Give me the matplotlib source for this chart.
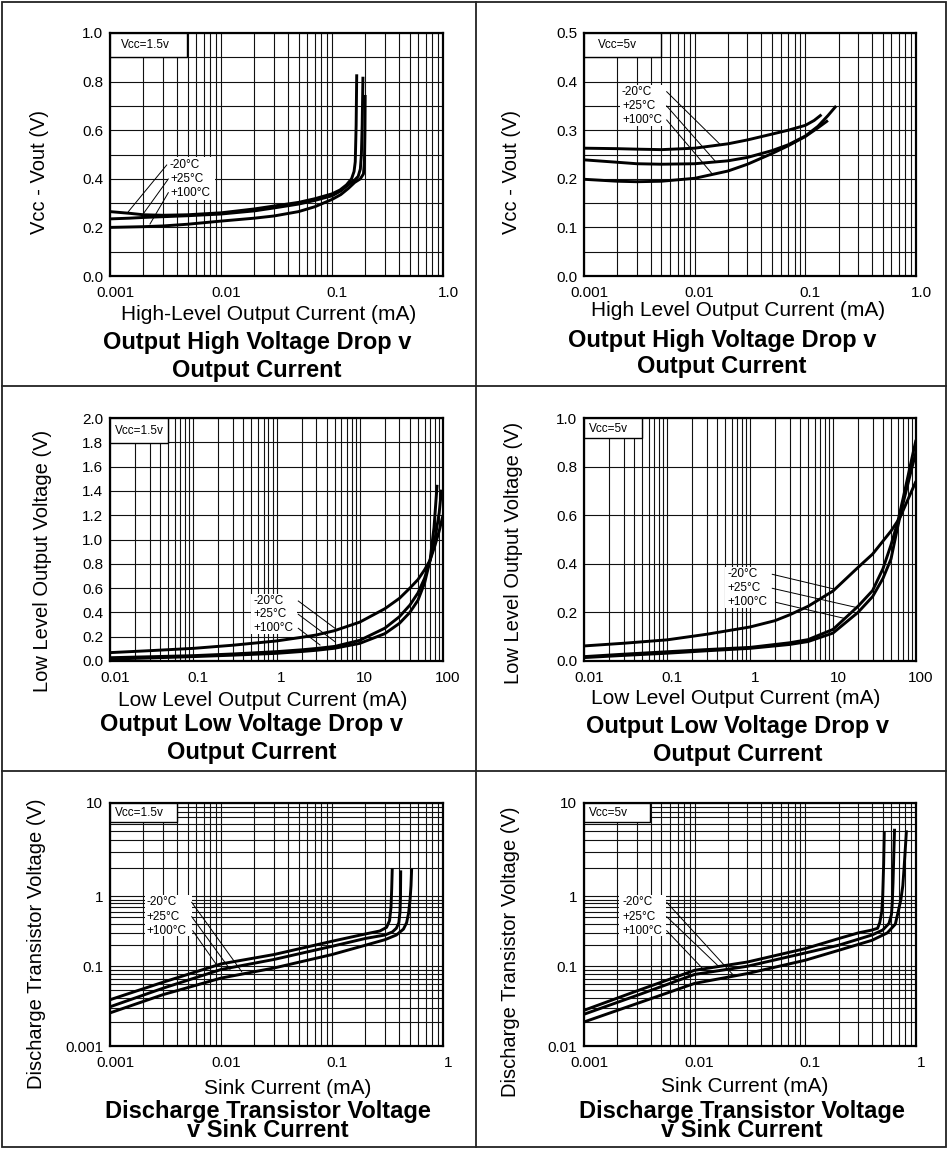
import numpy as np
import matplotlib
matplotlib.use('Agg')
import matplotlib.pyplot as plt
from matplotlib.ticker import FixedLocator, FixedFormatter
from matplotlib.patches import Rectangle
import matplotlib.transforms as mtransforms

plt.rcParams['font.family'] = ['Liberation Sans', 'DejaVu Sans']

temps = ['-20°C', '+25°C', '+100°C']

# --- top left: Vcc=1.5v, output high voltage drop
tl_xa = [0.001, 0.0015, 0.002, 0.003, 0.005, 0.01, 0.02, 0.03, 0.05, 0.07, 0.1, 0.118, 0.135, 0.15, 0.158, 0.162, 0.165, 0.167]
tl_ya = [0.265, 0.258, 0.252, 0.250, 0.252, 0.260, 0.276, 0.288, 0.303, 0.318, 0.338, 0.354, 0.375, 0.40, 0.43, 0.47, 0.62, 0.83]
tl_xb = [0.001, 0.0015, 0.002, 0.003, 0.005, 0.01, 0.02, 0.03, 0.05, 0.07, 0.1, 0.12, 0.14, 0.16, 0.172, 0.18, 0.184, 0.187, 0.19]
tl_yb = [0.235, 0.238, 0.241, 0.244, 0.248, 0.255, 0.268, 0.280, 0.296, 0.311, 0.330, 0.350, 0.375, 0.395, 0.41, 0.44, 0.50, 0.62, 0.82]
tl_xc = [0.001, 0.002, 0.003, 0.005, 0.01, 0.02, 0.03, 0.05, 0.07, 0.1, 0.12, 0.14, 0.16, 0.18, 0.192, 0.196, 0.198, 0.199]
tl_yc = [0.200, 0.203, 0.206, 0.213, 0.226, 0.238, 0.247, 0.265, 0.285, 0.315, 0.335, 0.360, 0.385, 0.40, 0.42, 0.47, 0.60, 0.745]

# --- top right: Vcc=5v
tr_xa = [0.001, 0.002, 0.003, 0.005, 0.01, 0.02, 0.03, 0.05, 0.07, 0.1, 0.12, 0.14]
tr_ya = [0.263, 0.262, 0.261, 0.260, 0.263, 0.272, 0.280, 0.292, 0.300, 0.310, 0.320, 0.332]
tr_xb = [0.001, 0.002, 0.003, 0.005, 0.01, 0.02, 0.03, 0.05, 0.07, 0.1, 0.13, 0.16, 0.19]
tr_yb = [0.239, 0.234, 0.231, 0.230, 0.231, 0.237, 0.244, 0.258, 0.270, 0.288, 0.308, 0.330, 0.350]
tr_xc = [0.001, 0.002, 0.003, 0.005, 0.01, 0.02, 0.03, 0.05, 0.07, 0.1, 0.13, 0.16]
tr_yc = [0.199, 0.195, 0.194, 0.195, 0.201, 0.216, 0.230, 0.252, 0.268, 0.287, 0.305, 0.320]

# --- middle left: Vcc=1.5v, output low voltage
ml_xa = [0.01, 0.03, 0.1, 0.3, 1, 2, 3, 5, 10, 20, 30, 40, 50, 60, 70, 80, 90, 100]
ml_ya = [0.069, 0.085, 0.104, 0.13, 0.165, 0.195, 0.214, 0.25, 0.32, 0.43, 0.516, 0.60, 0.67, 0.75, 0.83, 0.95, 1.07, 1.2]
ml_xb = [0.01, 0.03, 0.1, 0.3, 1, 2, 3, 5, 10, 20, 30, 40, 50, 60, 70, 80, 90, 96]
ml_yb = [0.027, 0.035, 0.044, 0.058, 0.077, 0.092, 0.103, 0.12, 0.17, 0.27, 0.365, 0.46, 0.56, 0.68, 0.83, 1.0, 1.22, 1.41]
ml_xc = [0.01, 0.03, 0.1, 0.3, 1, 2, 3, 5, 10, 20, 30, 40, 50, 60, 70, 78, 85]
ml_yc = [0.016, 0.025, 0.036, 0.048, 0.063, 0.078, 0.088, 0.105, 0.145, 0.225, 0.31, 0.40, 0.50, 0.64, 0.83, 1.1, 1.45]

# --- middle right: Vcc=5v
mr_xa = [0.01, 0.03, 0.1, 0.3, 1, 2, 3, 5, 10, 20, 30, 50, 64, 70, 100]
mr_ya = [0.062, 0.073, 0.087, 0.11, 0.14, 0.166, 0.19, 0.225, 0.288, 0.385, 0.44, 0.535, 0.59, 0.62, 0.74]
mr_xb = [0.01, 0.03, 0.1, 0.3, 1, 3, 5, 10, 20, 30, 40, 50, 60, 70, 80, 90, 100]
mr_yb = [0.018, 0.028, 0.038, 0.047, 0.056, 0.075, 0.088, 0.13, 0.225, 0.29, 0.38, 0.478, 0.57, 0.67, 0.76, 0.84, 0.91]
mr_xc = [0.01, 0.03, 0.1, 0.3, 1, 3, 5, 10, 20, 30, 40, 50, 60, 70, 80, 90, 100]
mr_yc = [0.014, 0.023, 0.032, 0.042, 0.052, 0.068, 0.08, 0.115, 0.2, 0.265, 0.34, 0.42, 0.55, 0.65, 0.73, 0.80, 0.86]

# --- bottom left: Vcc=1.5v, discharge transistor
bl_xa = [0.001, 0.003, 0.01, 0.03, 0.1, 0.2, 0.27, 0.31, 0.33, 0.34, 0.345, 0.349]
bl_ya = [0.038, 0.063, 0.108, 0.147, 0.228, 0.29, 0.32, 0.36, 0.45, 0.7, 1.2, 2.0]
bl_xb = [0.001, 0.003, 0.01, 0.03, 0.1, 0.2, 0.3, 0.35, 0.38, 0.40, 0.41, 0.414, 0.416]
bl_yb = [0.031, 0.053, 0.091, 0.125, 0.193, 0.25, 0.28, 0.31, 0.35, 0.42, 0.6, 1.0, 1.9]
bl_xc = [0.001, 0.003, 0.01, 0.03, 0.1, 0.2, 0.3, 0.38, 0.44, 0.47, 0.49, 0.505, 0.515, 0.522]
bl_yc = [0.026, 0.044, 0.071, 0.095, 0.147, 0.2, 0.24, 0.28, 0.34, 0.42, 0.58, 0.9, 1.3, 2.0]

# --- bottom right: Vcc=5v
br_xa = [0.001, 0.003, 0.01, 0.03, 0.1, 0.2, 0.3, 0.4, 0.45, 0.47, 0.49, 0.5, 0.51, 0.517]
br_ya = [0.028, 0.049, 0.089, 0.115, 0.179, 0.249, 0.30, 0.33, 0.35, 0.42, 0.6, 1.0, 2.2, 5.0]
br_xb = [0.001, 0.003, 0.01, 0.03, 0.1, 0.2, 0.4, 0.5, 0.57, 0.6, 0.61, 0.62, 0.63, 0.64]
br_yb = [0.025, 0.043, 0.079, 0.1, 0.155, 0.2, 0.28, 0.33, 0.41, 0.55, 0.8, 1.4, 2.8, 5.3]
br_xc = [0.001, 0.003, 0.01, 0.03, 0.1, 0.2, 0.4, 0.55, 0.65, 0.69, 0.73, 0.76, 0.78, 0.8, 0.82]
br_yc = [0.020, 0.034, 0.061, 0.081, 0.122, 0.169, 0.235, 0.30, 0.40, 0.6, 0.9, 1.3, 2.0, 3.2, 5.1]

top_xticks = [0.001, 0.01, 0.1, 1.0]
top_xlabels = ['0.001', '0.01', '0.1', '1.0']
mid_xticks = [0.01, 0.1, 1, 10, 100]
mid_xlabels = ['0.01', '0.1', '1', '10', '100']
bot_xticks = [0.001, 0.01, 0.1, 1]
bot_xlabels = ['0.001', '0.01', '0.1', '1']
bot_yticks = [0.01, 0.1, 1, 10]

W, H = 948, 1156
fig = plt.figure(figsize=(W / 100, H / 100), dpi=100)
shift = mtransforms.ScaledTranslation(0.05, 0, fig.dpi_scale_trans)


def panel(x0, y0, x1, y1):
    return fig.add_axes([x0 / W, 1 - y1 / H, (x1 - x0) / W, (y1 - y0) / H])


def log_minors(lo, hi):
    return [d * 10.0 ** k for k in range(int(round(np.log10(lo))), int(round(np.log10(hi))))
            for d in range(2, 10)]


# piecewise log scale for the discharge plots (decades are not equal in the original)
dec_log = [-6, -2, -1, 0, 1, 5]
dec_pos = [-320, 0, 80, 150, 243.7, 618.5]


def fwd(v):
    v = np.asarray(v, dtype=float)
    lv = np.log10(np.where(v > 0, v, 1e-6))
    return np.interp(lv, dec_log, dec_pos)


def inv(p):
    return 10 ** np.interp(np.asarray(p, dtype=float), dec_pos, dec_log)


def style(ax, xlim, xticks, xlabels, ylim, yticks, ylabels, yminor):
    ax.set_xscale('log')
    ax.set_xlim(xlim)
    ax.set_ylim(ylim)
    ax.xaxis.set_major_locator(FixedLocator(xticks))
    ax.xaxis.set_major_formatter(FixedFormatter(xlabels))
    ax.xaxis.set_minor_locator(FixedLocator(log_minors(*xlim)))
    ax.yaxis.set_major_locator(FixedLocator(yticks))
    ax.yaxis.set_major_formatter(FixedFormatter(ylabels))
    ax.yaxis.set_minor_locator(FixedLocator(yminor))
    ax.grid(True, which='both', color='#111111', lw=0.8)
    ax.tick_params(which='both', length=0, labelsize=11)
    ax.tick_params(axis='x', pad=7)
    ax.tick_params(axis='y', pad=5)
    for s in ax.spines.values():
        s.set_linewidth(1.6)
    for lab in ax.get_xticklabels():
        lab.set_transform(lab.get_transform() + shift)


def curves(ax, *pairs):
    for xs, ys in pairs:
        ax.plot(xs, ys, color='black', lw=2.1, solid_capstyle='butt')


# top left
ax = panel(110, 33, 443, 276)
curves(ax, (tl_xa, tl_ya), (tl_xb, tl_yb), (tl_xc, tl_yc))
style(ax, (0.001, 1.0), top_xticks, top_xlabels, (0, 1.0),
      [0, 0.2, 0.4, 0.6, 0.8, 1.0], ['0.0', '0.2', '0.4', '0.6', '0.8', '1.0'],
      [0.1, 0.3, 0.5, 0.7, 0.9])

# top right
ax = panel(584, 33, 916, 276)
curves(ax, (tr_xa, tr_ya), (tr_xb, tr_yb), (tr_xc, tr_yc))
style(ax, (0.001, 1.0), top_xticks, top_xlabels, (0, 0.5),
      [0, 0.1, 0.2, 0.3, 0.4, 0.5], ['0.0', '0.1', '0.2', '0.3', '0.4', '0.5'],
      [0.05, 0.15, 0.25, 0.35, 0.45])

# middle left
ax = panel(110, 418, 443, 661)
curves(ax, (ml_xa, ml_ya), (ml_xb, ml_yb), (ml_xc, ml_yc))
style(ax, (0.01, 100), mid_xticks, mid_xlabels, (0, 2.0),
      [0, 0.2, 0.4, 0.6, 0.8, 1.0, 1.2, 1.4, 1.6, 1.8, 2.0],
      ['0.0', '0.2', '0.4', '0.6', '0.8', '1.0', '1.2', '1.4', '1.6', '1.8', '2.0'], [])

# middle right
ax = panel(584, 418, 916, 661)
curves(ax, (mr_xa, mr_ya), (mr_xb, mr_yb), (mr_xc, mr_yc))
style(ax, (0.01, 100), mid_xticks, mid_xlabels, (0, 1.0),
      [0, 0.2, 0.4, 0.6, 0.8, 1.0], ['0.0', '0.2', '0.4', '0.6', '0.8', '1.0'], [])

# bottom left
ax = panel(110, 803, 443, 1046)
ax.set_yscale('function', functions=(fwd, inv))
curves(ax, (bl_xa, bl_ya), (bl_xb, bl_yb), (bl_xc, bl_yc))
style(ax, (0.001, 1), bot_xticks, bot_xlabels, (0.01, 10),
      bot_yticks, ['0.001', '0.1', '1', '10'], log_minors(0.01, 10))

# bottom right
ax = panel(584, 803, 916, 1046)
ax.set_yscale('function', functions=(fwd, inv))
curves(ax, (br_xa, br_ya), (br_xb, br_yb), (br_xc, br_yc))
style(ax, (0.001, 1), bot_xticks, bot_xlabels, (0.01, 10),
      bot_yticks, ['0.01', '0.1', '1', '10'], log_minors(0.01, 10))

# overlay in pixel coordinates: frames, boxes, labels
bg = fig.add_axes([0, 0, 1, 1], zorder=10)
bg.set_xlim(0, W)
bg.set_ylim(H, 0)
bg.axis('off')

lc = '#222222'
bg.add_patch(Rectangle((2.5, 1.5), 943.5, 1145, fc='none', ec=lc, lw=1.3))
bg.plot([476, 476], [1.5, 1146.5], color=lc, lw=1.3)
bg.plot([2.5, 946], [386, 386], color=lc, lw=1.3)
bg.plot([2.5, 946], [771, 771], color=lc, lw=1.3)

vcc_boxes = [
    ((110, 33, 187, 57), 120.5, 45, 'Vcc=1.5v'),
    ((584, 33, 661, 57), 597.5, 45, 'Vcc=5v'),
    ((110, 418, 168, 443), 115, 431, 'Vcc=1.5v'),
    ((584, 418, 642, 438), 588.5, 428.5, 'Vcc=5v'),
    ((110, 803, 177, 822), 115, 813, 'Vcc=1.5v'),
    ((584, 803, 650, 822), 589, 813, 'Vcc=5v'),
]
for (x0, y0, x1, y1), tx, ty, s in vcc_boxes:
    bg.add_patch(Rectangle((x0, y0), x1 - x0, y1 - y0, fc='white', ec='black', lw=1.0))
    bg.text(tx, ty, s, fontsize=8.5, ha='left', va='center')

temp_groups = [
    ((168, 157, 215, 200), 170, [165, 179, 193],
     [(166.7, 165, 128.3, 211.7), (168.3, 179, 141.7, 216), (168.3, 192.7, 150, 224)]),
    ((620, 85, 666, 126), 622, [91.7, 106, 120],
     [(666.7, 91.7, 720.7, 145), (666.7, 106, 715.7, 161.7), (666.7, 120, 712.3, 174)]),
    ((251, 594, 297, 634), 253.3, [601, 614.3, 628.3],
     [(298.3, 601, 335, 628.3), (298.3, 614.3, 335, 641.7), (298.3, 628.3, 320, 645)]),
    ((725, 567, 771, 608), 727.3, [574.3, 588.3, 602.3],
     [(772.3, 574.3, 834, 589), (772.3, 588.3, 857.3, 607.7), (775.7, 602.3, 844, 618.3)]),
    ((145, 895, 192, 936), 146.7, [902.3, 916.7, 930.7],
     [(191.7, 902.3, 241.7, 971.7), (191.7, 916.7, 230, 969.3), (192.7, 930.7, 216.7, 965)]),
    ((619, 895, 666, 936), 622.3, [902.3, 916.7, 930.7],
     [(666.7, 902.3, 732.3, 974), (666.7, 916.7, 719, 966.7), (666.7, 930.7, 704, 970)]),
]
for (x0, y0, x1, y1), tx, tys, leaders in temp_groups:
    bg.add_patch(Rectangle((x0, y0), x1 - x0, y1 - y0, fc='white', ec='none'))
    for t, ty in zip(temps, tys):
        bg.text(tx, ty, t, fontsize=8.5, ha='left', va='center')
    for lx0, ly0, lx1, ly1 in leaders:
        bg.plot([lx0, lx1], [ly0, ly1], color='black', lw=0.7)

ylabels = [
    (40, 172, 'Vcc - Vout (V)'),
    (512, 172, 'Vcc - Vout (V)'),
    (43, 561, 'Low Level Output Voltage (V)'),
    (514, 553, 'Low Level Output Voltage (V)'),
    (37, 944, 'Discharge Transistor Voltage (V)'),
    (511, 952, 'Discharge Transistor Voltage (V)'),
]
for x, y, s in ylabels:
    bg.text(x, y, s, fontsize=14.5, rotation=90, ha='center', va='center')

xlabels = [
    (269, 315, 'High-Level Output Current (mA)'),
    (738, 310, 'High Level Output Current (mA)'),
    (263, 700, 'Low Level Output Current (mA)'),
    (736, 698, 'Low Level Output Current (mA)'),
    (288, 1088, 'Sink Current (mA)'),
    (745, 1086, 'Sink Current (mA)'),
]
for x, y, s in xlabels:
    bg.text(x, y, s, fontsize=15, ha='center', va='center')

titles = [
    (256.7, 342, 'Output High Voltage Drop v'), (256.7, 370, 'Output Current'),
    (722, 340, 'Output High Voltage Drop v'), (722, 367, 'Output Current'),
    (251.7, 725, 'Output Low Voltage Drop v'), (251.7, 753, 'Output Current'),
    (738, 727, 'Output Low Voltage Drop v'), (738, 755, 'Output Current'),
]
for x, y, s in titles:
    bg.text(x, y, s, fontsize=17, fontweight='bold', ha='center', va='center')

# the two-line discharge titles sit very tight in the original
for x, y in [(268, 1121), (742, 1121)]:
    bg.text(x, y, 'Discharge Transistor Voltage\nv Sink Current', fontsize=17,
            fontweight='bold', ha='center', va='center', multialignment='center',
            linespacing=0.82)

fig.savefig('out.png', dpi=100)
